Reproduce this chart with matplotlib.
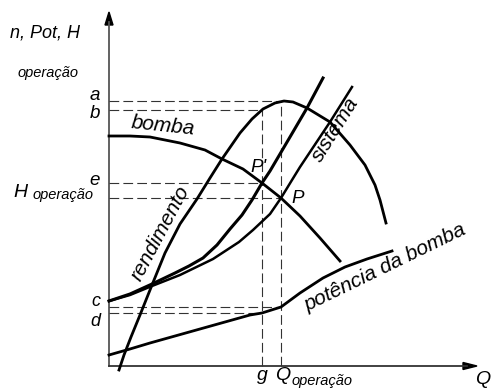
import matplotlib
matplotlib.use('Agg')
import matplotlib.pyplot as plt

plt.rcParams['font.family'] = ['Liberation Sans', 'DejaVu Sans']
plt.rcParams['lines.scale_dashes'] = False

# curves (Q, value)
eff_q = [10, 15, 22, 31, 43, 56, 71, 88, 101, 113, 131, 143, 154, 166, 175, 184, 198, 221, 241, 256, 266, 271, 277]
eff_v = [-4, 11, 29, 51, 81, 113, 142, 167, 188, 207, 233, 247, 257, 263, 265, 264, 258, 244, 221, 201, 181, 166, 143]

sys2_q = [0, 21, 43, 66, 80, 94, 108, 121, 133, 143, 153, 161, 181, 198, 214]
sys2_v = [65, 72, 82, 93, 100, 108, 121, 137, 151, 166, 183, 195, 229, 258, 288]

sys1_q = [0, 21, 43, 71, 104, 130, 144, 161, 172, 183, 191, 221, 243]
sys1_v = [65, 71, 80, 91, 107, 124, 136, 152, 168, 186, 199, 244, 279]

pump_q = [0, 21, 41, 71, 96, 113, 134, 153, 172, 191, 211, 231]
pump_v = [230, 230, 229, 223, 216, 207, 197, 183, 168, 150, 128, 105]

pow_q = [0, 21, 41, 91, 141, 153, 172, 191, 214, 236, 258, 283]
pow_v = [11, 17, 23, 37, 51, 53, 59, 73, 88, 99, 107, 115]

# reference levels
a, b, e, h_op, c, d = 265, 256, 183, 168, 59, 53
g, q_op = 153, 172
q_max, h_max = 368, 354


def main():
    fig = plt.figure(figsize=(4.94, 3.92), dpi=100)
    ax = fig.add_axes([0, 0, 1, 1])
    ax.set_xlim(-109, 385)
    ax.set_ylim(-26, 366)
    ax.axis('off')

    # axes with arrows
    ax.plot([0, 0], [0, h_max - 10], color='#555555', lw=1.3)
    ax.plot([0, q_max - 10], [0, 0], color='#333333', lw=1.3)
    ax.fill([-4, 4, 0], [h_max - 13, h_max - 13, h_max], color='black')
    ax.fill([q_max - 14, q_max - 14, q_max], [-3.5, 3.5, 0], color='black')

    # dashed guide lines
    dash = dict(color='#333333', lw=0.8, dashes=(7, 3))
    for lev, qq in [(a, q_op), (b, g), (e, g), (h_op, q_op), (c, q_op), (d, g)]:
        ax.plot([0, qq], [lev, lev], **dash)
    ax.plot([g, g], [0, b], **dash)
    ax.plot([q_op, q_op], [0, a], **dash)

    # curves
    ax.plot(eff_q, eff_v, color='black', lw=2.0, solid_joinstyle='round')
    ax.plot(sys2_q, sys2_v, color='black', lw=2.2, solid_joinstyle='round')
    ax.plot(sys1_q, sys1_v, color='black', lw=1.8, solid_joinstyle='round')
    ax.plot(pump_q, pump_v, color='black', lw=2.0, solid_joinstyle='round')
    ax.plot(pow_q, pow_v, color='black', lw=2.0, solid_joinstyle='round')

    it = dict(style='italic', color='black')
    ax.text(-99, 333, 'n, Pot, H', fontsize=13, ha='left', va='center', **it)
    ax.text(-91, 293, 'operação', fontsize=10.5, ha='left', va='center', **it)
    for lab, lev in [('a', 271), ('b', 253), ('e', 186)]:
        ax.text(-9, lev, lab, fontsize=13.5, ha='right', va='center', **it)
    ax.text(-9, 64, 'c', fontsize=13, ha='right', va='center', **it)
    ax.text(-9, 45, 'd', fontsize=13, ha='right', va='center', **it)
    ax.text(-96, 174, 'H', fontsize=14, ha='left', va='center', **it)
    ax.text(-76, 171, 'operação', fontsize=10.5, ha='left', va='center', **it)
    ax.text(g, -10, 'g', fontsize=14, ha='center', va='center', **it)
    ax.text(q_op + 2, -10, 'Q', fontsize=14, ha='center', va='center', **it)
    ax.text(183, -15, 'operação', fontsize=10.5, ha='left', va='center', **it)
    ax.text(374, -14, 'Q', fontsize=14, ha='center', va='center', **it)

    ax.text(54, 240, 'bomba', fontsize=15, rotation=-6, ha='center', va='center',
            rotation_mode='anchor', **it)
    ax.text(51, 133, 'rendimento', fontsize=15, rotation=62, ha='center', va='center',
            rotation_mode='anchor', **it)
    ax.text(226, 236, 'sistema', fontsize=15, rotation=58, ha='center', va='center',
            rotation_mode='anchor', **it)
    ax.text(276, 98, 'potência da bomba', fontsize=15, rotation=26, ha='center', va='center',
            rotation_mode='anchor', **it)
    ax.text(149, 199, "P'", fontsize=13.5, ha='center', va='center', **it)
    ax.text(189, 168, 'P', fontsize=13.5, ha='center', va='center', **it)

    fig.savefig('out.png', dpi=100, facecolor='white')


if __name__ == '__main__':
    main()
